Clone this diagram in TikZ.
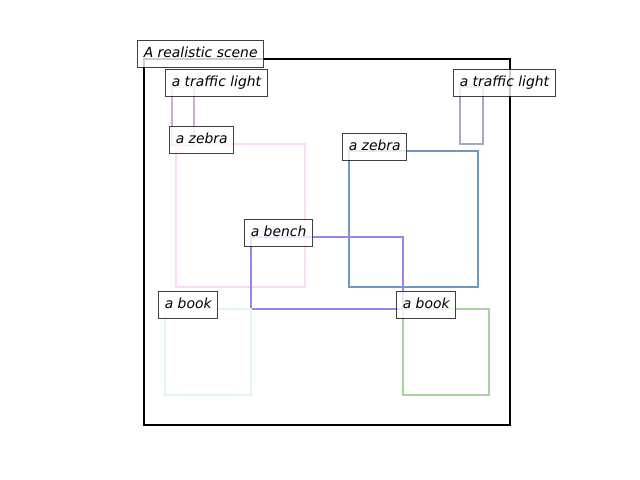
\documentclass[tikz,border=0pt]{standalone}
\usepackage{fontspec}
\setmainfont{DejaVu Sans}
\definecolor{tlA}{HTML}{D4A8D4}
\definecolor{tlB}{HTML}{A8A8C4}
\definecolor{zbA}{HTML}{FFD8F4}
\definecolor{zbB}{HTML}{7098C4}
\definecolor{bench}{HTML}{A080EC}
\definecolor{bkA}{HTML}{E0F8E8}
\definecolor{bkB}{HTML}{A8D4A0}
\tikzset{
  objbox/.style={line width=1.5pt},
  lbl/.style={anchor=south west, draw=black, draw opacity=0.75, fill=white, fill opacity=0.8, text opacity=1,
    line width=0.8pt, inner xsep=4.5pt, inner ysep=5pt, text height=7.5pt, text depth=2.2pt,
    font=\fontsize{10pt}{12pt}\selectfont\itshape}
}
\begin{document}
\begin{tikzpicture}[x=0.72pt,y=-0.72pt]
\useasboundingbox (0,0) rectangle (640,480);
% main frame
\draw[objbox, black] (144,59) rectangle (510,425);
% objects
\draw[objbox, tlA] (172,87) rectangle (194,145);
\draw[objbox, tlB] (460,87) rectangle (483,144);
\draw[objbox, zbA] (176,144) rectangle (305,287);
\draw[objbox, zbB] (349,151) rectangle (478,287);
\draw[objbox, bench] (251,237) rectangle (403,309);
\draw[objbox, bkA] (165,309) rectangle (251,395);
\draw[objbox, bkB] (403,309) rectangle (489,395);
% labels
\node[lbl] (lscene) at (137,68) {A realistic scene};
\node[lbl] (ltlA) at (165,97) {a traffic light};
\node[lbl] (ltlB) at (453,97) {a traffic light};
\node[lbl] (lzbA) at (169,154) {a zebra};
\node[lbl] (lzbB) at (342,161) {a zebra};
\node[lbl] (lbench) at (244,247) {a bench};
\node[lbl] (lbkA) at (158,319) {a book};
\node[lbl] (lbkB) at (396,319) {a book};
\end{tikzpicture}
\end{document}
